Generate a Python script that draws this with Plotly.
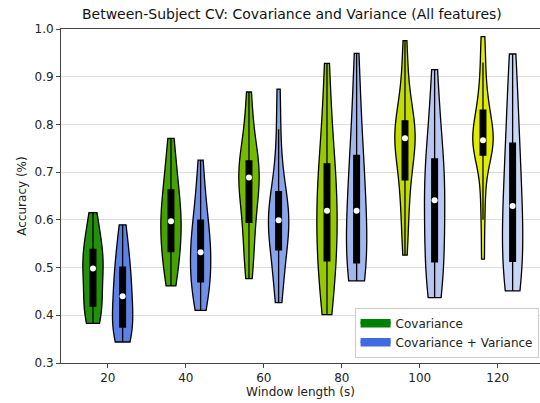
import numpy as np
import plotly.graph_objects as go

# ---- data ----
window_lengths = [20, 40, 60, 80, 100, 120]
series_names = ["Covariance", "Covariance + Variance"]

cov_samples = [
    [.383, .392, .405, .414, .421, .44, .46, .48, .498, .505, .512, .522, .534, .55, .57, .59, .615],
    [.4615, .48, .50, .52, .538, .555, .57, .585, .597, .605, .62, .64, .657, .68, .70, .735, .7707],
    [.477, .51, .54, .575, .6014, .625, .65, .67, .689, .695, .70, .71, .718, .74, .77, .82, .868],
    [.4015, .44, .47, .50, .519, .545, .57, .595, .619, .64, .66, .685, .71, .74, .79, .85, .928],
    [.526, .58, .625, .66, .6916, .72, .74, .76, .771, .777, .784, .792, .80, .83, .86, .91, .9755],
    [.5175, .60, .66, .71, .744, .75, .755, .761, .767, .78, .795, .81, .823, .85, .88, .93, .984],
]
covvar_samples = [
    [.344, .352, .362, .37, .377, .39, .405, .42, .440, .452, .465, .48, .496, .515, .535, .56, .5895],
    [.4105, .43, .445, .46, .4735, .49, .505, .52, .532, .545, .56, .575, .594, .615, .64, .68, .725],
    [.4267, .46, .49, .52, .543, .56, .575, .59, .599, .61, .62, .635, .652, .68, .72, .79, .874],
    [.472, .48, .49, .50, .513, .54, .565, .595, .619, .64, .665, .695, .7267, .76, .81, .87, .949],
    [.437, .455, .475, .495, .5175, .55, .58, .61, .641, .66, .68, .70, .72, .75, .79, .85, .915],
    [.451, .465, .48, .50, .5175, .545, .57, .60, .629, .655, .68, .715, .751, .79, .84, .89, .9476],
]

# ---- styles ----
cov_colors = ["#22900a", "#45a200", "#74bb00", "#95c900", "#c3dc00", "#e1ec00"]
covvar_colors = ["#5b80e6", "#6f8fe8", "#89a3ec", "#a3b7ef", "#b7c7f2", "#cad6f5"]
legend_colors = ["#008000", "#4169e1"]
dodge = 0.19
violin_width = 0.26
font_family = "DejaVu Sans"

fig = go.Figure()

groups = [(cov_samples, cov_colors, -dodge), (covvar_samples, covvar_colors, dodge)]
for gi, (samples, colors, off) in enumerate(groups):
    for ci, vals in enumerate(samples):
        pos = ci + off
        fig.add_trace(go.Violin(
            y=vals, x0=pos, name=f"{series_names[gi]} {window_lengths[ci]}",
            width=violin_width, scalemode="width", scalegroup=f"g{gi}_{ci}",
            spanmode="hard", points=False, showlegend=False,
            fillcolor=colors[ci], opacity=1,
            line=dict(color="black", width=1.3),
            box=dict(visible=True, width=0.28, fillcolor="black",
                     line=dict(color="black", width=1.3)),
            meanline=dict(visible=False),
            hoverinfo="skip",
        ))
    positions = [ci + off for ci in range(len(samples))]
    medians = [float(np.median(v)) for v in samples]
    fig.add_trace(go.Scatter(
        x=positions, y=medians, mode="markers", showlegend=False,
        marker=dict(color="white", size=6, line=dict(width=0)),
        hoverinfo="skip",
    ))

# legend entries
for name, col in zip(series_names, legend_colors):
    fig.add_trace(go.Scatter(
        x=[None], y=[None], mode="lines", fill="toself", name=name,
        fillcolor=col, line=dict(color=col, width=5),
    ))

axis_col = "#444444"
fig.update_layout(
    width=540, height=403,
    margin=dict(l=61, r=0, t=29, b=40),
    paper_bgcolor="white", plot_bgcolor="white",
    font=dict(family=font_family, size=12, color="#222222"),
    title=dict(text="Between-Subject CV: Covariance and Variance (All features)",
               x=0.482, xref="paper", xanchor="center",
               y=1, yref="container", yanchor="top", pad=dict(t=9),
               font=dict(family=font_family, size=14, color="#111111")),
    violinmode="overlay",
    showlegend=True,
    legend=dict(x=0.997, y=0.015, xanchor="right", yanchor="bottom",
                bgcolor="white", bordercolor="#cccccc", borderwidth=1,
                font=dict(family=font_family, size=12, color="#222222"),
                tracegroupgap=0),
)
fig.update_xaxes(
    range=[-0.6, -0.6 + 479 / 78], tickmode="array",
    tickvals=list(range(len(window_lengths))), ticktext=[str(w) for w in window_lengths],
    showgrid=False, zeroline=False, showline=True, linecolor=axis_col, linewidth=1,
    mirror=True, ticks="outside", ticklen=4, tickcolor=axis_col,
    tickfont=dict(size=12),
    title=dict(text="Window length (s)", standoff=3,
               font=dict(family=font_family, size=12)),
)
fig.update_yaxes(
    range=[0.3, 1.0], dtick=0.1, tickformat=".1f",
    showgrid=True, gridcolor="#dddddd", gridwidth=1, zeroline=False,
    showline=True, linecolor=axis_col, linewidth=1,
    ticks="outside", ticklen=4, tickcolor=axis_col,
    tickfont=dict(size=12),
    title=dict(text="Accuracy (%)", standoff=5,
               font=dict(family=font_family, size=12)),
)

fig.write_html("out.html")
